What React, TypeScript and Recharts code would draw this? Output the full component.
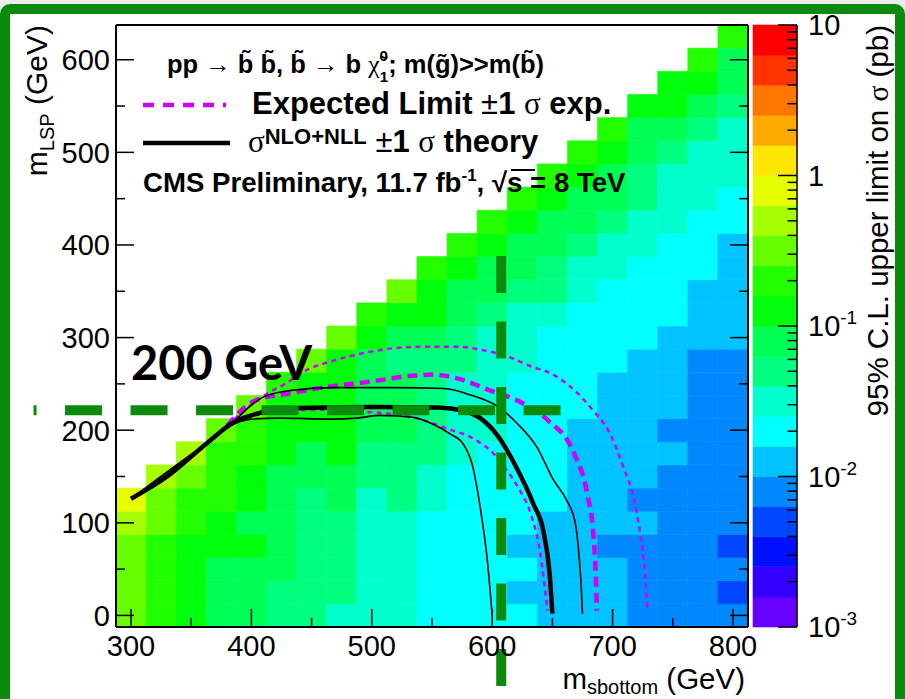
import React from 'react'
import { ComposedChart, XAxis, YAxis, Line, ReferenceArea, ReferenceLine } from 'recharts'

const FONT = '"Liberation Sans", Arial, Helvetica, sans-serif'
const SERIF = '"Liberation Serif", "Times New Roman", serif'
const MAGENTA = '#cc00ff'
const MARK = '#0b8a0b'

// colour bins of the 95% CL upper limit: bin k spans 10^(-3+k/5) .. 10^(-3+(k+1)/5) pb
const palette = [
  '#6600ff', '#3300ff', '#0010ff', '#0048ff', '#0088ff',
  '#00c3ff', '#00ffff', '#00ffcc', '#00ff80', '#00ff55',
  '#00ff0a', '#22ff00', '#66ff00', '#a6ff00', '#e6ff00',
  '#ffe600', '#ffaa00', '#ff7700', '#ff3300', '#ff0000',
]

const mSbottom = [300, 325, 350, 375, 400, 425, 450, 475, 500, 525, 550, 575, 600, 625, 650, 675, 700, 725, 750, 775, 800]
const mLsp = [0, 25, 50, 75, 100, 125, 150, 175, 200, 225, 250, 275, 300, 325, 350, 375, 400, 425, 450, 475, 500, 525, 550, 575, 600, 625]
const binWidth = 25

// limit bin for each sbottom column, from mLSP = 0 upwards
const limitBins = [
  [12, 12, 12, 12, 13, 14],
  [11, 11, 11, 11, 12, 12, 13],
  [10, 10, 10, 10, 11, 11, 12, 13],
  [9, 9, 9, 10, 10, 11, 11, 11, 12],
  [9, 9, 9, 10, 9, 10, 10, 11, 11, 12],
  [8, 8, 9, 9, 9, 9, 9, 10, 10, 10, 11],
  [8, 8, 8, 8, 8, 8, 9, 9, 10, 10, 10, 12],
  [7, 8, 8, 8, 8, 9, 9, 10, 10, 10, 10, 10, 12],
  [7, 7, 7, 7, 7, 7, 8, 8, 9, 9, 9, 9, 10, 11],
  [7, 7, 7, 7, 7, 8, 8, 8, 9, 9, 9, 8, 9, 10, 12],
  [6, 6, 6, 6, 6, 7, 7, 8, 8, 8, 8, 8, 9, 10, 10, 11],
  [6, 6, 6, 6, 6, 6, 6, 7, 7, 7, 7, 8, 8, 9, 9, 10, 11],
  [6, 6, 6, 6, 6, 6, 6, 6, 7, 7, 7, 7, 7, 8, 9, 9, 10, 11],
  [6, 5, 6, 5, 6, 6, 6, 6, 6, 6, 6, 7, 7, 7, 8, 9, 9, 10, 11],
  [5, 5, 5, 5, 5, 6, 6, 6, 6, 6, 6, 6, 6, 7, 8, 8, 9, 9, 10, 11],
  [5, 5, 5, 5, 5, 5, 5, 5, 5, 6, 6, 6, 6, 6, 7, 7, 8, 9, 9, 10, 11],
  [5, 5, 5, 4, 5, 5, 5, 5, 5, 5, 5, 6, 6, 6, 6, 7, 7, 8, 9, 9, 10, 11],
  [4, 4, 4, 4, 5, 4, 5, 5, 5, 5, 5, 5, 6, 6, 6, 6, 7, 7, 8, 8, 9, 9, 10],
  [4, 4, 4, 4, 4, 4, 4, 5, 4, 5, 5, 5, 5, 6, 6, 6, 6, 7, 7, 7, 8, 9, 10, 10],
  [4, 4, 4, 4, 4, 4, 4, 4, 4, 4, 4, 4, 5, 5, 5, 6, 6, 6, 7, 7, 7, 8, 9, 10, 11],
  [4, 3, 4, 3, 4, 4, 4, 4, 4, 4, 4, 4, 5, 5, 5, 5, 5, 6, 6, 7, 7, 7, 8, 9, 9, 11],
]

// exclusion contours, [m(sbottom), m(LSP)] in GeV
const observed = [
  [300, 126], [330, 150], [364, 187], [386, 209], [400, 216], [415, 221], [440, 224], [500, 225],
  [555, 224.5], [576, 221], [590, 213], [604, 195], [620, 160], [634, 121], [643, 88], [648, 40], [650, 2],
]
const theoryUp = [
  [300, 126], [364, 187], [386, 210], [398, 225], [410, 236], [433, 243], [467, 246], [520, 246],
  [560, 245], [582, 238], [604, 226], [621, 207], [637, 182], [651, 146], [662, 124], [669, 100],
  [672, 67], [674, 30], [675, 2],
]
const theoryDown = [
  [300, 126], [364, 187], [386, 207], [400, 212], [422, 213], [467, 212], [487, 213], [507, 216],
  [534, 214], [550, 207], [565, 196], [576, 185], [584, 160], [590, 117], [596, 59], [600, 0],
]
const expected = [
  [380, 205], [403, 232], [433, 240], [464, 247], [490, 251], [537, 259], [550, 260], [576, 254],
  [598, 243], [621, 232], [646, 211], [668, 175], [679, 131], [684, 88], [686, 45], [687, 5],
]
const expectedUp = [
  [380, 205], [411, 238], [428, 250], [446, 265], [468, 275], [496, 284], [537, 290], [573, 290],
  [590, 287], [607, 282], [618, 277], [634, 268], [646, 263], [665, 247], [684, 221], [698, 196],
  [709, 160], [718, 124], [723, 88], [727, 45], [729, 5],
]
const expectedDown = [
  [380, 205], [410, 219], [460, 222], [493, 220], [534, 214], [562, 202], [587, 189], [601, 175],
  [612, 157], [623, 135], [632, 110], [639, 74], [643, 38], [646, 5],
]

// hand-drawn marks over the plot
const markLsp = 221.4
const markLspFrom = 219
const markLspTo = 657
const markSbottom = 607.5
const markSbottomFrom = 388
const markSbottomTo = -91

const xTicks = [300, 350, 400, 450, 500, 550, 600, 650, 700, 750, 800]
const yTicks = [0, 50, 100, 150, 200, 250, 300, 350, 400, 450, 500, 550, 600]
const cbDecades = [0.001, 0.01, 0.1, 1, 10]
const cbTicks = cbDecades.flatMap((d, i) =>
  i === cbDecades.length - 1 ? [d] : [1, 2, 3, 4, 5, 6, 7, 8, 9].map(k => k * d))

const xDomain = [mSbottom[0] - binWidth / 2, mSbottom[mSbottom.length - 1] + binWidth / 2]
const yDomain = [mLsp[0] - binWidth / 2, mLsp[mLsp.length - 1] + binWidth / 2]

const cells = limitBins.flatMap((col, i) =>
  col.map((bin, j) => ({ m: mSbottom[i], lsp: mLsp[j], bin })))

const pts = (a: number[][]) => a.map(([x, y]) => ({ x, y }))

const binEdge = (k: number) => Math.pow(10, -3 + k / 5)
// colour bar: one band per bin
const barData = palette.map((c, k) => ({ x: 0.5, lo: binEdge(k), hi: binEdge(k + 1), k }))

function BottomTick({ x, y, payload }: any) {
  const major = payload.value % 100 === 0
  return (
    <g>
      <line x1={x} x2={x} y1={y} y2={y - (major ? 18 : 9)} stroke="#000" strokeWidth={1.5} />
      {major && (
        <text x={x} y={y + 29} textAnchor="middle" fontSize={29} fontFamily={FONT} fill="#000">
          {payload.value}
        </text>
      )}
    </g>
  )
}

function TopTick({ x, y, payload }: any) {
  const major = payload.value % 100 === 0
  return <line x1={x} x2={x} y1={y} y2={y + (major ? 18 : 9)} stroke="#000" strokeWidth={1.5} />
}

function LeftTick({ x, y, payload }: any) {
  const major = payload.value % 100 === 0
  return (
    <g>
      <line x1={x} x2={x + (major ? 18 : 9)} y1={y} y2={y} stroke="#000" strokeWidth={1.5} />
      {major && (
        <text x={x - 6} y={y} dy="0.36em" textAnchor="end" fontSize={29} fontFamily={FONT} fill="#000">
          {payload.value}
        </text>
      )}
    </g>
  )
}

function RightTick({ x, y, payload }: any) {
  const major = payload.value % 100 === 0
  return <line x1={x} x2={x - (major ? 18 : 9)} y1={y} y2={y} stroke="#000" strokeWidth={1.5} />
}

function ColorTick({ x, y, payload }: any) {
  const e = Math.log10(payload.value)
  const n = Math.round(e)
  const major = Math.abs(e - n) < 1e-6
  return (
    <g>
      <line x1={x} x2={x - (major ? 19 : 9.5)} y1={y} y2={y} stroke="#000" strokeWidth={1.5} />
      {major && (
        <text x={x + 11} y={y} dy="0.36em" fontSize={29} fontFamily={FONT} fill="#000">
          {n === 1 ? '10' : n === 0 ? '1' : (
            <>
              10<tspan fontSize={19} dy={-12}>{n}</tspan>
            </>
          )}
        </text>
      )}
    </g>
  )
}

const frame = { stroke: '#000', strokeWidth: 2 }

function LimitPlot() {
  return (
    <ComposedChart width={905} height={699} margin={{ top: 24, right: 156, bottom: 32, left: 56 }}>
      {cells.map(c => (
        <ReferenceArea
          key={`${c.m}-${c.lsp}`}
          x1={c.m - binWidth / 2}
          x2={c.m + binWidth / 2}
          y1={c.lsp - binWidth / 2}
          y2={c.lsp + binWidth / 2}
          fill={palette[c.bin]}
          fillOpacity={1}
          stroke={palette[c.bin]}
          strokeWidth={0.6}
          zIndex={10}
        />
      ))}
      <Line data={pts(expectedUp)} dataKey="y" type="monotone" stroke={MAGENTA} strokeWidth={2.5}
        strokeDasharray="5 4.5" dot={false} activeDot={false} isAnimationActive={false} />
      <Line data={pts(expectedDown)} dataKey="y" type="monotone" stroke={MAGENTA} strokeWidth={2.5}
        strokeDasharray="5 4.5" dot={false} activeDot={false} isAnimationActive={false} />
      <Line data={pts(expected)} dataKey="y" type="monotone" stroke={MAGENTA} strokeWidth={4.5}
        strokeDasharray="10 6" dot={false} activeDot={false} isAnimationActive={false} />
      <Line data={pts(theoryUp)} dataKey="y" type="monotone" stroke="#000" strokeWidth={1.6}
        dot={false} activeDot={false} isAnimationActive={false} />
      <Line data={pts(theoryDown)} dataKey="y" type="monotone" stroke="#000" strokeWidth={1.6}
        dot={false} activeDot={false} isAnimationActive={false} />
      <Line data={pts(observed)} dataKey="y" type="monotone" stroke="#000" strokeWidth={4.5}
        dot={false} activeDot={false} isAnimationActive={false} />
      <XAxis type="number" dataKey="x" domain={xDomain} allowDataOverflow ticks={xTicks} interval={0}
        height={40} tickSize={0} tickMargin={0} tickLine={false} axisLine={frame}
        tick={(p: any) => <BottomTick {...p} />} />
      <XAxis xAxisId="top" orientation="top" type="number" domain={xDomain} allowDataOverflow ticks={xTicks}
        interval={0} height={1} tickSize={0} tickMargin={0} tickLine={false} axisLine={frame}
        tick={(p: any) => <TopTick {...p} />} />
      <YAxis type="number" domain={yDomain} allowDataOverflow ticks={yTicks} interval={0} width={60}
        tickSize={0} tickMargin={0} tickLine={false} axisLine={frame}
        tick={(p: any) => <LeftTick {...p} />} />
      <YAxis yAxisId="right" orientation="right" type="number" domain={yDomain} allowDataOverflow ticks={yTicks}
        interval={0} width={1} tickSize={0} tickMargin={0} tickLine={false} axisLine={frame}
        tick={(p: any) => <RightTick {...p} />} />
      <ReferenceLine
        segment={[{ x: markLspFrom, y: markLsp }, { x: markLspTo, y: markLsp }]}
        ifOverflow="visible" stroke={MARK} strokeWidth={10} strokeDasharray="37 28.5"
        strokeDashoffset={34} zIndex={1500} />
      <ReferenceLine
        segment={[{ x: markSbottom, y: markSbottomFrom }, { x: markSbottom, y: markSbottomTo }]}
        ifOverflow="visible" stroke={MARK} strokeWidth={10} strokeDasharray="37 28.5" zIndex={1500} />
    </ComposedChart>
  )
}

function ColorBar() {
  return (
    <ComposedChart width={905} height={699} data={barData} margin={{ top: 25, right: 48, bottom: 72, left: 753 }}>
      <XAxis type="number" dataKey="x" domain={[0, 1]} allowDataOverflow hide />
      <YAxis type="number" scale="log" domain={[0.001, 10]} allowDataOverflow orientation="right" width={60}
        ticks={cbTicks} interval={0} tickSize={0} tickMargin={0} tickLine={false}
        axisLine={{ stroke: '#000', strokeWidth: 1.5 }} tick={(p: any) => <ColorTick {...p} />} />
      {barData.map(b => (
        <ReferenceArea key={b.k} x1={0} x2={1} y1={b.lo} y2={b.hi} fill={palette[b.k]} fillOpacity={1}
          stroke={palette[b.k]} strokeWidth={0.6} ifOverflow="visible" zIndex={10} />
      ))}
    </ComposedChart>
  )
}

function Texts() {
  const bt = 'b\u0303'
  return (
    <svg width={905} height={699} style={{ position: 'absolute', left: 0, top: 0 }}>
      <text x={167} y={73} fontFamily={FONT} fontWeight="bold" fontSize={25.5} fill="#000">
        {`pp → ${bt} ${bt}, ${bt} → b `}
        <tspan fontFamily={SERIF} fontWeight="normal">{'\u03c7\u0303'}</tspan>
        <tspan fontSize={15} dy={-12}>0</tspan>
        <tspan fontSize={15} dx={-8} dy={21}>1</tspan>
        <tspan dy={-9}>{`; m(g\u0303)>>m(${bt})`}</tspan>
      </text>

      <line x1={143} x2={226} y1={105} y2={105} stroke={MAGENTA} strokeWidth={4.5} strokeDasharray="11 9" />
      <text x={252} y={114} fontFamily={FONT} fontWeight="bold" fontSize={31} fill="#000">
        {'Expected Limit '}
        <tspan fontWeight="normal">±</tspan>
        {'1 '}
        <tspan fontFamily={SERIF} fontWeight="normal">σ</tspan>
        {' exp.'}
      </text>

      <line x1={143} x2={230} y1={143} y2={143} stroke="#000" strokeWidth={4.5} />
      <text x={248} y={152} fontFamily={FONT} fontWeight="bold" fontSize={31} fill="#000">
        <tspan fontFamily={SERIF} fontWeight="normal">σ</tspan>
        <tspan fontSize={22} dy={-8}>NLO+NLL</tspan>
        <tspan dy={8}>{' '}</tspan>
        <tspan fontWeight="normal">±</tspan>
        {'1 '}
        <tspan fontFamily={SERIF} fontWeight="normal">σ</tspan>
        {' theory'}
      </text>

      <text x={143} y={192} fontFamily={FONT} fontWeight="bold" fontSize={27.6} fill="#000">
        {'CMS Preliminary, 11.7 fb'}
        <tspan fontSize={17} dy={-11}>-1</tspan>
        <tspan dy={11}>{', √s = 8 TeV'}</tspan>
      </text>
      <line x1={511} x2={535} y1={170} y2={170} stroke="#000" strokeWidth={2} />

      <text x={131} y={380} fontFamily="Lato, 'Open Sans', sans-serif" fontWeight={700} fontSize={47} fill="#000">
        200 GeV
      </text>

      <text transform="rotate(-90 47 25)" x={47} y={25} textAnchor="end" fontFamily={FONT} fontSize={30} fill="#000">
        m<tspan fontSize={20} dy={7}>LSP</tspan>
        <tspan dy={-7}>{' (GeV)'}</tspan>
      </text>
      <text x={745} y={689} textAnchor="end" fontFamily={FONT} fontSize={29.5} fill="#000">
        m<tspan fontSize={20} dy={5}>sbottom</tspan>
        <tspan dy={-5}>{' (GeV)'}</tspan>
      </text>
      <text transform="rotate(-90 888 25)" x={888} y={25} textAnchor="end" fontFamily={FONT} fontSize={29.5} fill="#000">
        {'95% C.L. upper limit on '}
        <tspan fontFamily={SERIF}>σ</tspan>
        {' (pb)'}
      </text>
    </svg>
  )
}

export default function App() {
  return (
    <div style={{ position: 'absolute', left: 0, top: 0, width: 905, height: 699, overflow: 'hidden', background: '#ececec' }}>
      <div style={{
        position: 'absolute', left: 0, top: 4, width: 905, height: 706, boxSizing: 'border-box',
        border: `10px solid ${MARK}`, borderRadius: 10, background: '#fff',
      }} />
      <div style={{ position: 'absolute', left: 0, top: 0 }}>
        <LimitPlot />
      </div>
      <div style={{ position: 'absolute', left: 0, top: 0 }}>
        <ColorBar />
      </div>
      <Texts />
    </div>
  )
}
